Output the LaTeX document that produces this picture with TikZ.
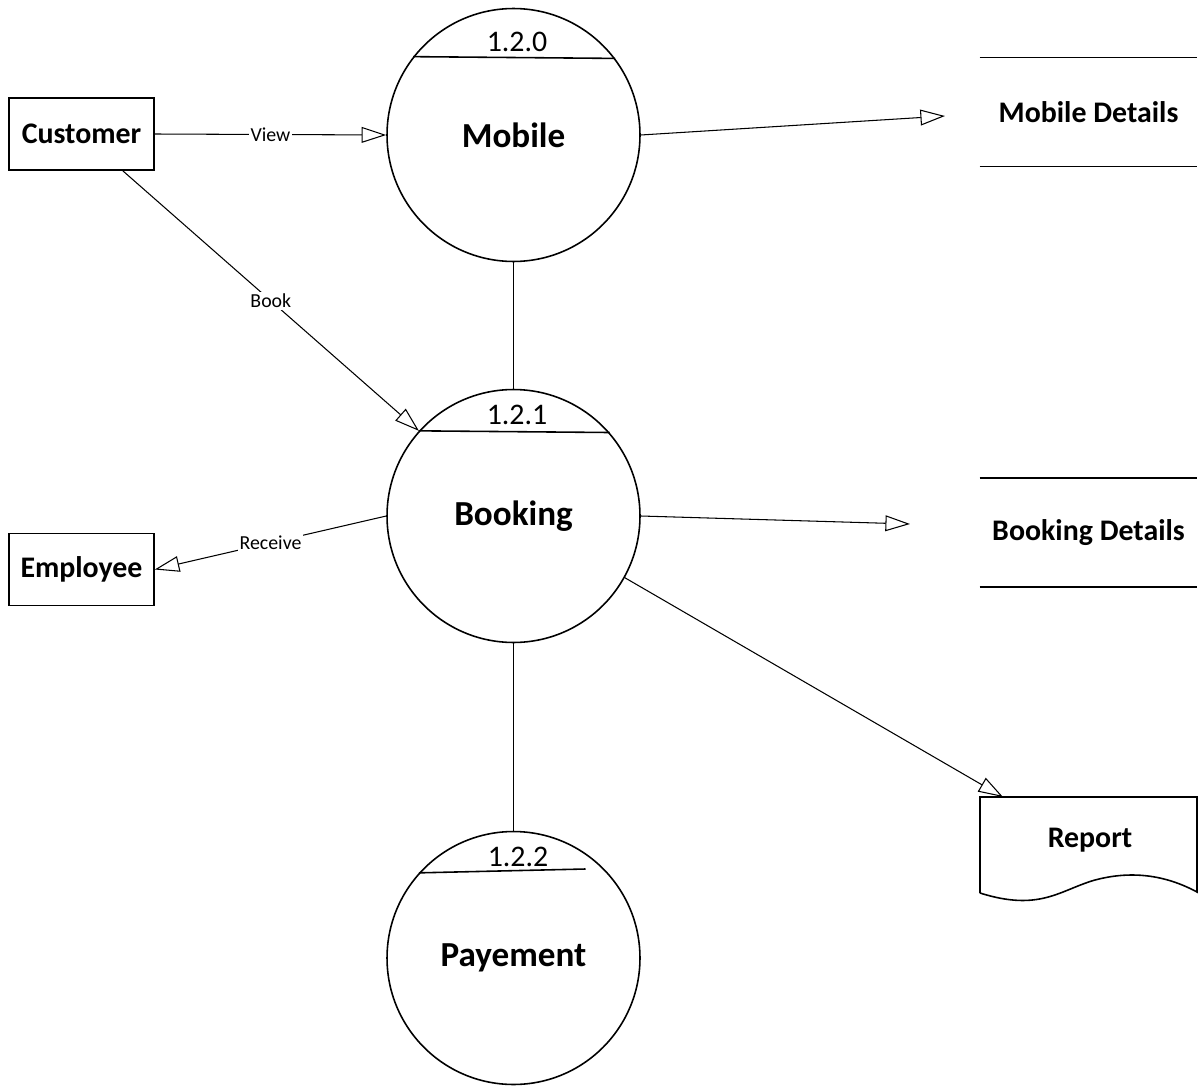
\documentclass[tikz,border=0pt]{standalone}
\usepackage{fontspec}
\setmainfont{Carlito}
\usetikzlibrary{arrows.meta,calc}
\begin{document}
\begin{tikzpicture}[x=0.02cm,y=-0.02cm,
  ent/.style={draw,line width=0.9pt,minimum width=2.9cm,minimum height=1.44cm,inner sep=0pt,font=\fontsize{17}{20}\selectfont\bfseries},
  proc/.style={draw,circle,line width=0.9pt,minimum size=5.06cm,inner sep=0pt,font=\fontsize{20}{24}\selectfont\bfseries},
  pid/.style={inner sep=0pt,font=\fontsize{17}{20}\selectfont},
  store/.style={minimum width=4.34cm,minimum height=2.16cm,inner sep=0pt,font=\fontsize{17}{20}\selectfont\bfseries},
  shape line/.style={line width=0.9pt},
  flow/.style={line width=0.6pt,-{Triangle[open,length=14pt,width=9pt]}},
  plain/.style={line width=0.6pt},
  lbl/.style={fill=white,inner sep=1pt,font=\fontsize{11.3}{13}\selectfont}
]
\useasboundingbox (0,0) rectangle (1200,1088);

% external entities
\node[ent] (c) at (81.5,134) {Customer};
\node[ent] (e) at (81.5,569.5) {Employee};

% processes
\node[proc] (m) at (513.5,135) {Mobile};
\node[proc] (b) at (513.5,516) {\raisebox{-3pt}{Booking}};
\node[proc] (p) at (513.5,958) {Payement};
\draw[shape line] (m.142.5) -- (m.37.5);
\draw[shape line] (b.138.5) -- (b.41.5);
\coordinate (pend) at ($(p.center)+(72,-89)$);
\draw[shape line] (p.138.5) -- (pend);
\node[pid] (m id) at (517,42) {1.2.0};
\node[pid] (b id) at (517,415) {1.2.1};
\node[pid] (p id) at (518,857) {1.2.2};

% data stores
\node[store] (md) at (1088.5,112) {Mobile Details};
\draw[shape line] (md.north west) -- (md.north east);
\draw[shape line] (md.south west) -- (md.south east);
\node[store] (bd) at (1088.5,532.5) {Booking Details};
\draw[shape line] (bd.north west) -- (bd.north east);
\draw[shape line] (bd.south west) -- (bd.south east);

% report document
\node[inner sep=0pt,font=\fontsize{17}{20}\selectfont\bfseries] (r) at (1090,840) {Report};
\coordinate (rtl) at (980,797);
\coordinate (rtr) at (1197,797);
\draw[shape line] (980,893) -- (rtl) -- (rtr) -- (1197,892)
  .. controls (1160,872) and (1125,872) .. (1095,880)
  .. controls (1060,890) and (1040,912) .. (980,893);

% flows
\draw[flow] (c.east) -- node[lbl] {View} (m.west);
\draw[flow] (c.south east) ++(-32,0) coordinate (cs) -- node[lbl,pos=0.5] {Book} (b.138.5);
\coordinate (mdin) at (945,116);
\draw[flow] (m.east) -- (mdin);
\draw[plain] (m.south) -- (b.north);
\draw[flow] (b.180) -- node[lbl,pos=0.5] {Receive} (e.east);
\coordinate (bdin) at (910,524);
\draw[flow] (b.east) -- (bdin);
\coordinate (rin) at (1003,797);
\draw[flow] (b.-29.5) -- (rin);
\draw[plain] (b.south) -- (p.north);
\end{tikzpicture}
\end{document}
